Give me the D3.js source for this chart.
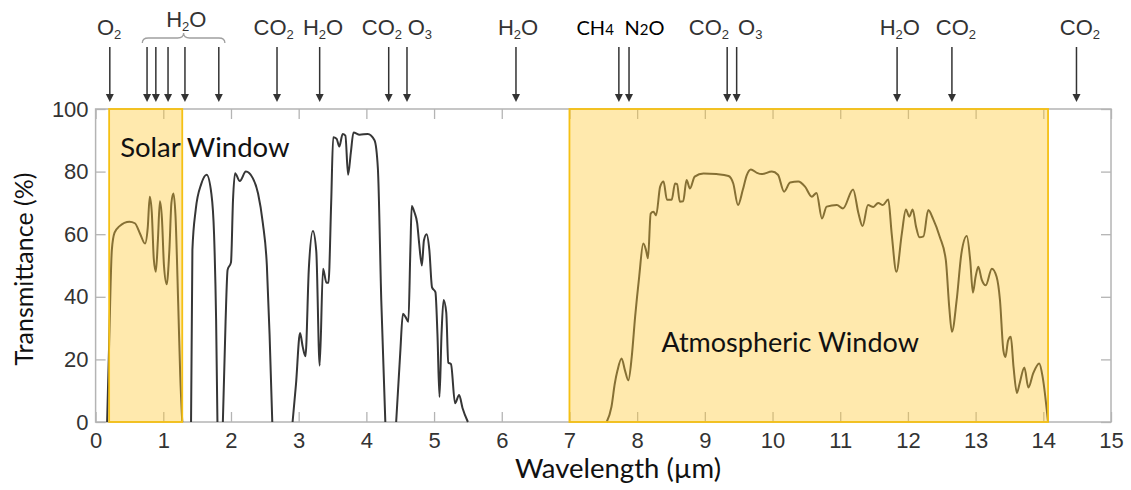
<!DOCTYPE html>
<html>
<head>
<meta charset="utf-8">
<script src="https://cdn.jsdelivr.net/npm/d3@7"></script>
<style>
  body { margin: 0; background: #fff; }
  svg { display: block; }
</style>
</head>
<body>
<div id="chart"></div>
<script>
// axis ticks
var xTicks = d3.range(0, 16);
var yTicks = [0, 20, 40, 60, 80, 100];

// shaded windows (wavelength, um)
var solarWindow = [0.20, 1.28];
var atmosWindow = [7.0, 14.07];

// transmittance curve, one array per band of [wavelength, %]
var band1 = [[0.17,0],[0.20,25],[0.24,55],[0.28,60.5],[0.35,62.5],[0.5,64],[0.58,63.5],[0.66,60],[0.73,57],[0.77,62],
  [0.80,72],[0.83,67],[0.86,52],[0.89,48],[0.92,58],[0.95,70.5],[0.98,65],[1.01,50],[1.05,44],[1.09,55],[1.12,70],
  [1.15,73],[1.18,66],[1.22,38],[1.25,15],[1.28,0]];
var band2 = [[1.41,0],[1.43,55],[1.48,68],[1.56,76],[1.64,79],[1.71,73],[1.75,60],[1.78,33],[1.80,0]];
var band3 = [[1.88,0],[1.92,32],[1.95,48.6],[2.00,51],[2.03,71],[2.06,79.5],[2.13,77],[2.22,80],[2.32,78],[2.40,73],
  [2.47,63.6],[2.53,50],[2.57,28],[2.61,0]];
var band4 = [[2.91,0],[2.96,12],[3.02,28.4],[3.06,24],[3.10,21],[3.15,49],[3.21,61],[3.26,54.5],[3.31,18],[3.36,49],
  [3.41,44.5],[3.44,44.5],[3.48,70],[3.51,91],[3.56,90.5],[3.60,88],[3.65,92],[3.69,91.5],[3.73,79],[3.77,86],
  [3.81,92.5],[3.90,91.8],[4.02,92],[4.12,90],[4.17,81],[4.22,39],[4.28,0]];
var band5 = [[4.44,0],[4.50,22],[4.54,34.6],[4.58,33.5],[4.62,32],[4.65,55],[4.67,69],[4.71,67],[4.75,63.6],[4.78,57],
  [4.82,50],[4.85,58],[4.89,60],[4.93,55],[4.97,43],[5.02,41.5],[5.05,28],[5.08,8],[5.11,28],[5.14,39],[5.18,35],
  [5.21,19],[5.25,18.5],[5.31,6],[5.37,8.6],[5.42,4.5],[5.50,0]];
var band6 = [[7.55,0],[7.62,4.8],[7.67,12.3],[7.71,16.5],[7.77,20.3],[7.82,16.5],[7.87,13.3],[7.92,20.8],[7.97,33.6],
  [8.03,46.4],[8.09,57],[8.13,55],[8.16,52.3],[8.20,66.6],[8.24,67.2],[8.28,66],[8.34,75.2],[8.39,76.8],[8.44,71],
  [8.51,71],[8.56,76.2],[8.59,76],[8.63,70.4],[8.68,70.5],[8.73,77.3],[8.78,74.6],[8.85,78.4],[8.98,79.4],[9.17,79.2],
  [9.35,78.6],[9.42,76.2],[9.49,69.3],[9.56,74.1],[9.62,78.9],[9.68,80.7],[9.77,79.6],[9.84,79.2],[9.99,80],[10.08,79],
  [10.17,73.6],[10.26,76.5],[10.38,76.8],[10.48,75.2],[10.58,72],[10.65,73.2],[10.73,65],[10.80,68.8],[10.95,69.3],
  [11.04,68.2],[11.19,74.3],[11.27,66.6],[11.33,62.6],[11.41,69.3],[11.49,68.7],[11.56,70],[11.63,69.3],[11.71,71.1],
  [11.76,60.2],[11.83,48],[11.91,60.2],[11.97,67.9],[12.02,65.6],[12.07,67.9],[12.12,62.4],[12.17,59],[12.23,59.3],
  [12.30,67.7],[12.37,65],[12.47,59.2],[12.56,51.7],[12.61,36.8],[12.65,28.8],[12.72,38.9],[12.79,53.8],[12.87,59.4],
  [12.92,51.7],[12.96,41.3],[13.00,46.4],[13.04,49.6],[13.09,45.5],[13.15,43.7],[13.24,49],[13.31,46.4],[13.36,38.9],
  [13.41,22.9],[13.44,20.8],[13.48,26],[13.52,27.2],[13.56,17.6],[13.61,9.3],[13.65,12.3],[13.72,17.4],[13.78,11],
  [13.85,15.5],[13.94,18.7],[13.99,14.4],[14.07,0]];
var bands = [band1, band2, band3, band4, band5, band6];

// absorption arrows and molecule labels on top
var arrowWl = [0.21, 0.76, 0.89, 1.07, 1.32, 1.82, 2.68, 3.31, 4.33, 4.60, 6.21, 7.73, 7.88, 9.33, 9.47, 11.84, 12.65, 14.49];
var moleculeNames = ["O_2", "H_2O", "CO_2", "H_2O", "CO_2", "O_3", "H_2O", "CH_4", "N_2O", "CO_2", "O_3", "H_2O", "CO_2", "CO_2"];
var moleculeWl = [0.20, 1.34, 2.63, 3.36, 4.23, 4.79, 6.24, 7.38, 8.11, 9.06, 9.67, 11.88, 12.71, 14.54];
var moleculeRaised = [false, true, false, false, false, false, false, false, false, false, false, false, false, false];
var moleculeInline = [false, false, false, false, false, false, false, true, true, false, false, false, false, false];
var braceWl = [0.69, 1.91];

var margin = {top: 109, right: 20, bottom: 68, left: 95.6},
    totalWidth = 1131, totalHeight = 490;
var width = totalWidth - margin.left - margin.right,
    height = totalHeight - margin.top - margin.bottom;

var svg = d3.select("#chart").append("svg")
    .attr("width", totalWidth)
    .attr("height", totalHeight);

var g = svg.append("g")
    .attr("transform", "translate(" + margin.left + "," + margin.top + ")");

var xScale = d3.scaleLinear().domain([0, 15]).range([0, width]);
var yScale = d3.scaleLinear().domain([0, 100]).range([height, 0]);

var tickFont = "'Liberation Sans', Arial, sans-serif";
var softFont = "Lato, 'Open Sans', sans-serif";

// frame
g.append("rect")
    .attr("width", width)
    .attr("height", height)
    .attr("fill", "none")
    .attr("stroke", "#b4b4b4")
    .attr("stroke-width", 1.5);

function styleAxis(sel) {
    sel.select(".domain").remove();
    sel.selectAll(".tick line").attr("stroke", "#b4b4b4").attr("stroke-width", 1.3);
    sel.selectAll(".tick text")
        .attr("fill", "#333")
        .style("font-family", tickFont)
        .style("font-size", "22px");
}

g.append("g")
    .attr("transform", "translate(0," + height + ")")
    .call(d3.axisBottom(xScale).tickValues(xTicks).tickSize(-10).tickPadding(10))
    .call(styleAxis);
g.append("g")
    .call(d3.axisTop(xScale).tickValues(xTicks).tickSize(-10).tickFormat(""))
    .call(styleAxis);
g.append("g")
    .call(d3.axisLeft(yScale).tickValues(yTicks).tickSize(-10).tickPadding(7))
    .call(styleAxis);
g.append("g")
    .attr("transform", "translate(" + width + ",0)")
    .call(d3.axisRight(yScale).tickValues(yTicks).tickSize(-10).tickFormat(""))
    .call(styleAxis);

// transmittance curve
var line = d3.line()
    .x(function (d) { return xScale(d[0]); })
    .y(function (d) { return yScale(d[1]); })
    .curve(d3.curveMonotoneX);

g.selectAll(".band")
    .data(bands)
    .enter()
    .append("path")
    .attr("class", "band")
    .attr("d", line)
    .attr("fill", "none")
    .attr("stroke", "#363636")
    .attr("stroke-width", 2);

// windows (semi transparent so the curve shows through)
g.selectAll(".window")
    .data([solarWindow, atmosWindow])
    .enter()
    .append("rect")
    .attr("class", "window")
    .attr("x", function (d) { return xScale(d[0]); })
    .attr("y", 0)
    .attr("width", function (d) { return xScale(d[1]) - xScale(d[0]); })
    .attr("height", height)
    .attr("fill", "rgb(255,200,50)")
    .attr("fill-opacity", 0.4)
    .attr("stroke", "#f5c014")
    .attr("stroke-width", 1.8);

g.append("text")
    .attr("x", xScale(solarWindow[0]) + 11)
    .attr("y", 48)
    .style("font-family", softFont)
    .style("font-size", "27.5px")
    .attr("fill", "#111")
    .text("Solar Window");

g.append("text")
    .attr("x", xScale(atmosWindow[0]) + 92)
    .attr("y", 243)
    .style("font-family", softFont)
    .style("font-size", "27px")
    .attr("fill", "#111")
    .text("Atmospheric Window");

// arrows
var arrows = g.selectAll(".arrow")
    .data(arrowWl)
    .enter()
    .append("g")
    .attr("class", "arrow")
    .attr("transform", function (d) { return "translate(" + xScale(d) + ",0)"; });
arrows.append("line")
    .attr("y1", -62)
    .attr("y2", -12)
    .attr("stroke", "#333")
    .attr("stroke-width", 1.5);
arrows.append("path")
    .attr("d", "M-4,-15L4,-15L0,-7Z")
    .attr("fill", "#333");

// brace over the grouped water lines
var bx0 = xScale(braceWl[0]), bx1 = xScale(braceWl[1]), bxm = (bx0 + bx1) / 2;
g.append("path")
    .attr("d", "M" + bx0 + ",-66 Q" + bx0 + ",-71 " + (bx0 + 6) + ",-71 L" + (bxm - 6) + ",-71 Q" + bxm + ",-71 " + bxm + ",-76"
        + " Q" + bxm + ",-71 " + (bxm + 6) + ",-71 L" + (bx1 - 6) + ",-71 Q" + bx1 + ",-71 " + bx1 + ",-66")
    .attr("fill", "none")
    .attr("stroke", "#a0a0a0")
    .attr("stroke-width", 1.3);

// molecule labels
moleculeNames.forEach(function (name, i) {
    var parts = name.split("_");
    var inline = moleculeInline[i];
    var t = g.append("text")
        .attr("x", xScale(moleculeWl[i]))
        .attr("y", moleculeRaised[i] ? -82 : -74)
        .attr("text-anchor", "middle")
        .attr("fill", inline ? "#000" : "#333")
        .style("font-family", inline ? softFont : tickFont)
        .style("font-size", inline ? "20px" : "22px");
    t.append("tspan").text(parts[0]);
    var sub = parts[1].charAt(0), rest = parts[1].slice(1);
    t.append("tspan")
        .attr("dy", inline ? 0 : 4)
        .style("font-size", inline ? "15px" : "13px")
        .text(sub);
    if (rest) {
        t.append("tspan")
            .attr("dy", inline ? 0 : -4)
            .text(rest);
    }
});

// axis titles
svg.append("text")
    .attr("transform", "translate(33,269) rotate(-90)")
    .attr("text-anchor", "middle")
    .style("font-family", softFont)
    .style("font-size", "25px")
    .attr("fill", "#111")
    .text("Transmittance (%)");

svg.append("text")
    .attr("x", 618)
    .attr("y", 478)
    .attr("text-anchor", "middle")
    .style("font-family", softFont)
    .style("font-size", "27.5px")
    .attr("fill", "#111")
    .text("Wavelength (\u00b5m)");
</script>
</body>
</html>
